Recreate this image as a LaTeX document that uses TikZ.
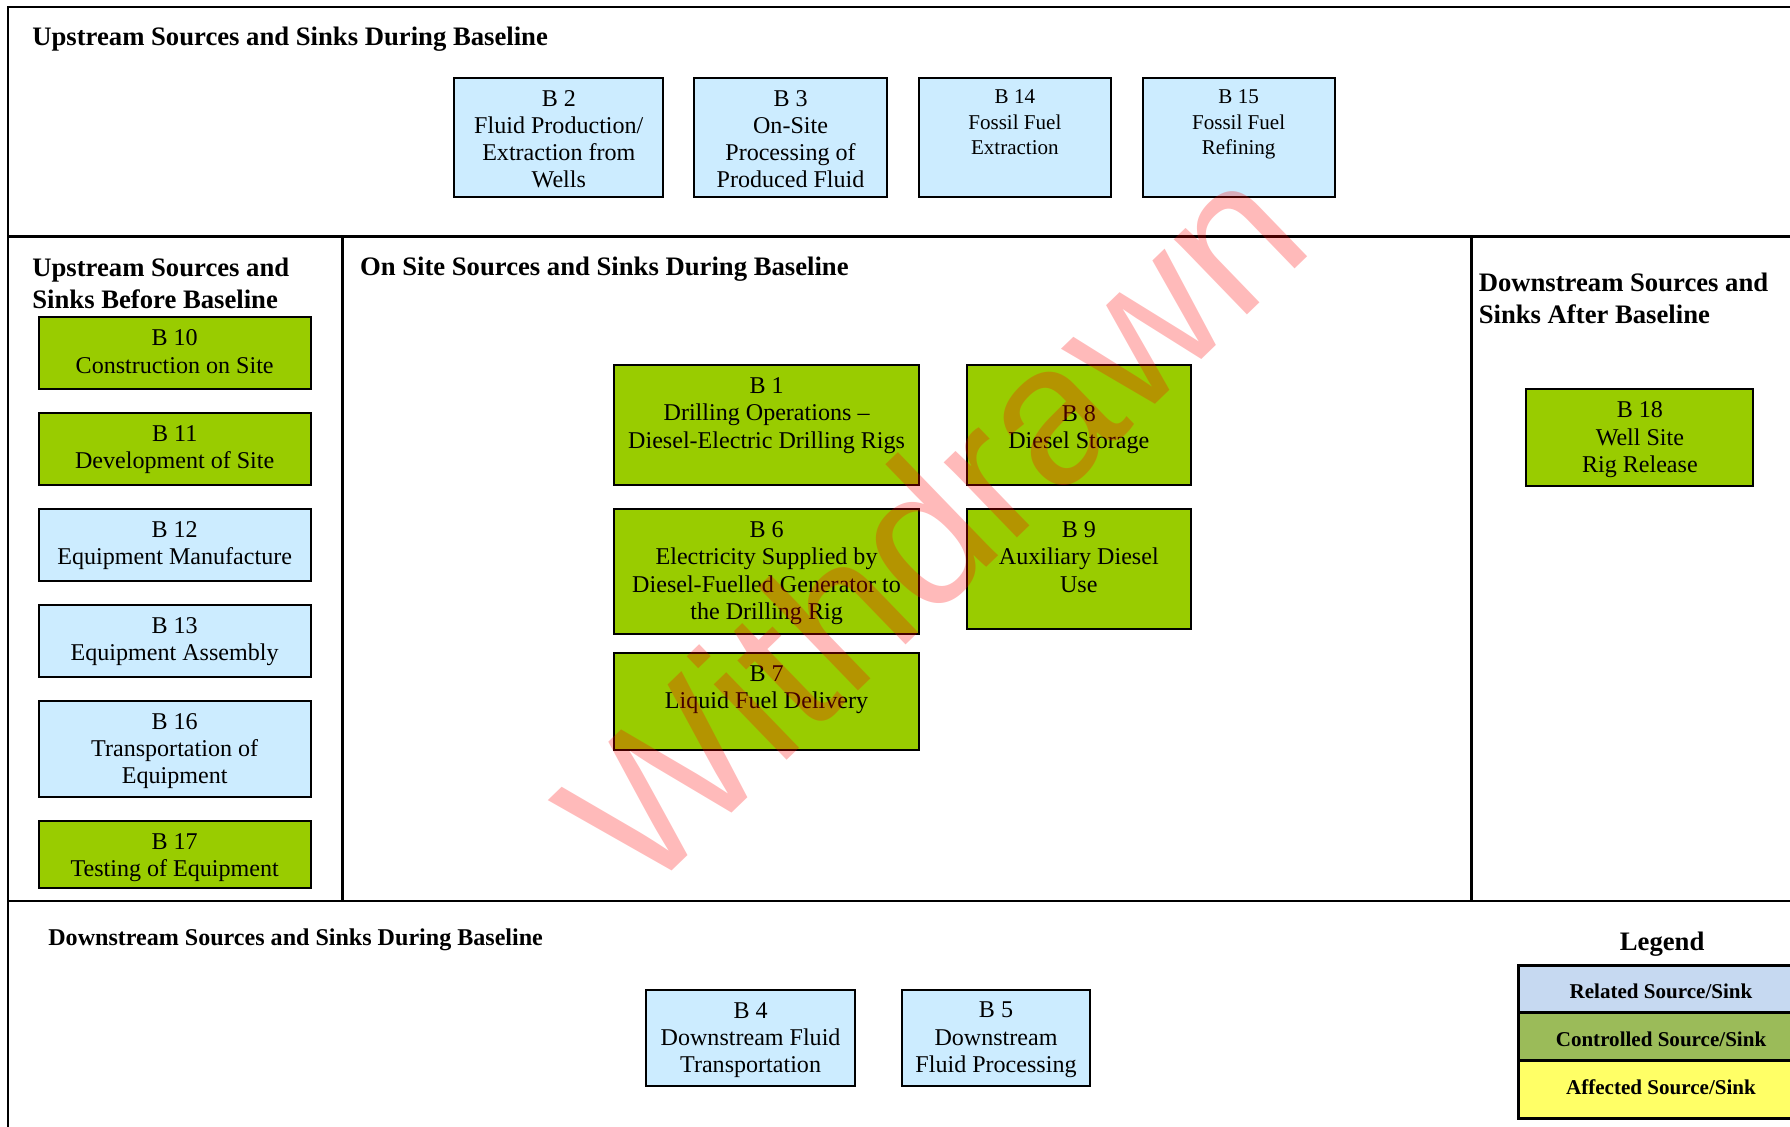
\documentclass[tikz,border=0pt]{standalone}
\usepackage{fontspec}
\setmainfont{Liberation Serif}
\newfontfamily\wmfont{Liberation Sans}
\usetikzlibrary{fit}
\definecolor{relfill}{HTML}{CCECFF}
\definecolor{ctlfill}{HTML}{99CC00}
\definecolor{legrel}{HTML}{C6D9F1}
\definecolor{legctl}{HTML}{9BBB59}
\definecolor{legaff}{HTML}{FFFF66}
\begin{document}
\begin{tikzpicture}[x=.02cm,y=-.02cm,
    srcbox/.style={draw,line width=1pt,inner sep=0pt},
    related/.style={srcbox,fill=relfill},
    controlled/.style={srcbox,fill=ctlfill},
    boxtext/.style={anchor=north,inner sep=0pt,align=center,yshift=-6.5pt,font=\fontsize{12}{13.6}\selectfont},
    smalltext/.style={boxtext,font=\fontsize{10.5}{12.5}\selectfont},
    heading/.style={anchor=west,inner sep=0pt,align=left,font=\fontsize{13.3}{15.9}\selectfont\bfseries},
    legrow/.style={draw,line width=1.7pt,inner sep=0pt},
    legtext/.style={inner sep=0pt,font=\fontsize{10.5}{12}\selectfont\bfseries}]
    \useasboundingbox (0,0) rectangle (1568,987);
    \clip (0,0) rectangle (1568,987);
    % frame
    \draw[line width=1.2pt] (7,6) rectangle (1590,1010);
    \draw[line width=1.2pt] (7,207)--(1590,207) (300,207)--(300,789) (1289,207)--(1289,789) (7,789)--(1590,789);
    % upstream during baseline
    \node[heading] (uphead) at (28,34) {Upstream Sources and Sinks During Baseline};
    \node[related,fit={(398,68) (581,173)}] (b2) {};
    \node[boxtext] (b2t) at (b2.north) {B 2\\Fluid Production/\\Extraction from\\Wells};
    \node[related,fit={(608,68) (777,173)}] (b3) {};
    \node[boxtext] (b3t) at (b3.north) {B 3\\On-Site\\Processing of\\Produced Fluid};
    \node[related,fit={(805,68) (973,173)}] (b14) {};
    \node[smalltext] (b14t) at (b14.north) {B 14\\Fossil Fuel\\Extraction};
    \node[related,fit={(1001,68) (1169,173)}] (b15) {};
    \node[smalltext] (b15t) at (b15.north) {B 15\\Fossil Fuel\\Refining};
    % upstream before baseline
    \node[heading] (beforehead) at (28,248) {Upstream Sources and\\Sinks Before Baseline};
    \node[controlled,fit={(34,278) (272,341)}] (b10) {};
    \node[boxtext] (b10t) at (b10.north) {B 10\\Construction on Site};
    \node[controlled,fit={(34,362) (272,425)}] (b11) {};
    \node[boxtext] (b11t) at (b11.north) {B 11\\Development of Site};
    \node[related,fit={(34,446) (272,509)}] (b12) {};
    \node[boxtext] (b12t) at (b12.north) {B 12\\Equipment Manufacture};
    \node[related,fit={(34,530) (272,593)}] (b13) {};
    \node[boxtext] (b13t) at (b13.north) {B 13\\Equipment Assembly};
    \node[related,fit={(34,614) (272,698)}] (b16) {};
    \node[boxtext] (b16t) at (b16.north) {B 16\\Transportation of\\Equipment};
    \node[controlled,fit={(34,719) (272,778)}] (b17) {};
    \node[boxtext] (b17t) at (b17.north) {B 17\\Testing of Equipment};
    % on site
    \node[heading] (sitehead) at (315,236) {On Site Sources and Sinks During Baseline};
    \node[controlled,fit={(538,320) (805,425)}] (b1) {};
    \node[boxtext] (b1t) at (b1.north) {B 1\\Drilling Operations --\\Diesel-Electric Drilling Rigs};
    \node[controlled,fit={(847,320) (1043,425)}] (b8) {};
    \node[boxtext,yshift=-13.6pt] (b8t) at (b8.north) {B 8\\Diesel Storage};
    \node[controlled,fit={(538,446) (805,555)}] (b6) {};
    \node[boxtext] (b6t) at (b6.north) {B 6\\Electricity Supplied by\\Diesel-Fuelled Generator to\\the Drilling Rig};
    \node[controlled,fit={(847,446) (1043,551)}] (b9) {};
    \node[boxtext] (b9t) at (b9.north) {B 9\\Auxiliary Diesel\\Use};
    \node[controlled,fit={(538,572) (805,657)}] (b7) {};
    \node[boxtext] (b7t) at (b7.north) {B 7\\Liquid Fuel Delivery};
    % downstream after baseline
    \node[heading] (afterhead) at (1295,261) {Downstream Sources and\\Sinks After Baseline};
    \node[controlled,fit={(1337,341) (1536,426)}] (b18) {};
    \node[boxtext] (b18t) at (b18.north) {B 18\\Well Site\\Rig Release};
    % downstream during baseline
    \node[heading,font=\fontsize{12}{14}\selectfont\bfseries] (downhead) at (42,823) {Downstream Sources and Sinks During Baseline};
    \node[related,fit={(566,867) (749,951)}] (b4) {};
    \node[boxtext] (b4t) at (b4.north) {B 4\\Downstream Fluid\\Transportation};
    \node[related,fit={(790,867) (955,951)}] (b5) {};
    \node[boxtext] (b5t) at (b5.north) {B 5\\Downstream\\Fluid Processing};
    % legend
    \node[inner sep=0pt,font=\fontsize{13.3}{15}\selectfont\bfseries] (leghead) at (1456,827) {Legend};
    \node[legrow,fill=legrel,fit={(1330,846) (1580,887)}] (legr) {};
    \node[legrow,fill=legctl,fit={(1330,887) (1580,929)}] (legc) {};
    \node[legrow,fill=legaff,fit={(1330,929) (1580,980)}] (lega) {};
    \node[legtext] (legrt) at (1455,868) {Related Source/Sink};
    \node[legtext] (legct) at (1455,910) {Controlled Source/Sink};
    \node[legtext] (legat) at (1455,952) {Affected Source/Sink};
    % watermark
    \node[rotate=44,text=red,opacity=.27,inner sep=0pt,font=\fontsize{99}{99}\wmfont] (wm) at (815,458) {Withdrawn};
\end{tikzpicture}
\end{document}
